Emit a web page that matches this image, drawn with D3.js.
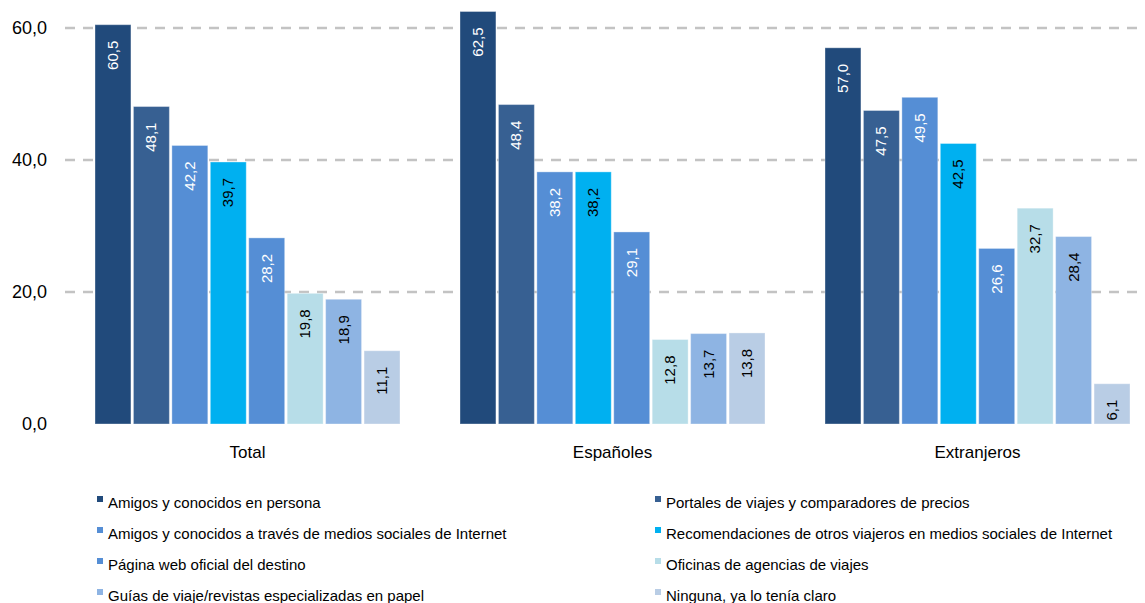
<!DOCTYPE html>
<html><head><meta charset="utf-8">
<script src="https://cdn.jsdelivr.net/npm/d3@7"></script>
<style>body{margin:0;background:#fff;} svg{display:block;font-family:"Liberation Sans",Arial,sans-serif;}</style>
</head><body>
<svg id="c" width="1145" height="603"></svg>
<script>
const groups = ["Total", "Españoles", "Extranjeros"];
const seriesNames = [
  "Amigos y conocidos en persona",
  "Portales de viajes y comparadores de precios",
  "Amigos y conocidos a través de medios sociales de Internet",
  "Recomendaciones de otros viajeros en medios sociales de Internet",
  "Página web oficial del destino",
  "Oficinas de agencias de viajes",
  "Guías de viaje/revistas especializadas en papel",
  "Ninguna, ya lo tenía claro"
];
const totalValues = [60.5, 48.1, 42.2, 39.7, 28.2, 19.8, 18.9, 11.1];
const espanolesValues = [62.5, 48.4, 38.2, 38.2, 29.1, 12.8, 13.7, 13.8];
const extranjerosValues = [57.0, 47.5, 49.5, 42.5, 26.6, 32.7, 28.4, 6.1];
const yTicks = [0, 20, 40, 60];
const colors = ["#214A7B", "#376092", "#558ED5", "#00B0F0", "#558ED5", "#B7DDE8", "#8EB4E3", "#B9CDE5"];
const labelColors = ["#fff", "#fff", "#fff", "#000", "#fff", "#000", "#000", "#000"];

const valuesByGroup = [totalValues, espanolesValues, extranjerosValues];
const svg = d3.select("#c");
const fmt = v => d3.format(".1f")(v).replace(".", ",");

const x0 = d3.scaleBand().domain(groups).range([65, 1160]).paddingInner(60/365).paddingOuter(30/365);
const x1 = d3.scaleBand().domain(d3.range(8)).range([0, x0.bandwidth()]).paddingInner(0.065).paddingOuter(0);
const y = d3.scaleLinear().domain([0, 60]).range([424, 28]);

// gridlines
svg.append("g").selectAll("line").data(yTicks.filter(d => d > 0)).join("line")
  .attr("x1", 65).attr("x2", 1145)
  .attr("y1", d => y(d)).attr("y2", d => y(d))
  .attr("stroke", "#c3c3c3").attr("stroke-width", 2.5).attr("stroke-dasharray", "10,8");

// y axis labels
const yAxis = d3.axisLeft(y).tickValues(yTicks).tickFormat(fmt).tickSize(0).tickPadding(0);
const ya = svg.append("g").attr("transform", "translate(47,0)").call(yAxis);
ya.select(".domain").remove();
ya.selectAll("text").attr("font-size", 18).attr("fill", "#000").attr("font-family", "Liberation Sans, Arial, sans-serif");

// bars
const gs = svg.append("g").selectAll("g").data(groups).join("g")
  .attr("transform", d => `translate(${x0(d)},0)`);
gs.each(function(g, gi) {
  const vals = valuesByGroup[gi];
  const sel = d3.select(this);
  sel.selectAll("rect").data(vals).join("rect")
    .attr("x", (d, i) => x1(i)).attr("width", x1.bandwidth())
    .attr("y", d => y(d)).attr("height", d => y(0) - y(d))
    .attr("fill", (d, i) => colors[i])
    .attr("stroke", "rgba(255,255,255,0.35)").attr("stroke-width", 1);
  sel.selectAll("text").data(vals).join("text")
    .attr("transform", (d, i) => `translate(${x1(i) + x1.bandwidth()/2 + 5},${y(d) + 16}) rotate(-90)`)
    .attr("text-anchor", "end")
    .attr("font-size", 15)
    .attr("fill", (d, i) => labelColors[i])
    .text(fmt);
});

// x axis category labels
const xAxis = d3.axisBottom(x0).tickSize(0).tickPadding(0);
const xa = svg.append("g").attr("transform", "translate(0,446)").call(xAxis);
xa.select(".domain").remove();
xa.selectAll("text").attr("font-size", 17).attr("fill", "#000").attr("font-family", "Liberation Sans, Arial, sans-serif");

// legend
const legend = svg.append("g").selectAll("g").data(seriesNames).join("g")
  .attr("transform", (d, i) => `translate(${i % 2 === 0 ? 97 : 655},${503 + Math.floor(i/2) * 31})`);
legend.append("rect").attr("x", 0).attr("y", -7).attr("width", 6).attr("height", 6)
  .attr("fill", (d, i) => colors[i]);
legend.append("text").attr("x", 11).attr("y", 5).attr("font-size", 15).attr("fill", "#000").text(d => d);
</script>
</body></html>
